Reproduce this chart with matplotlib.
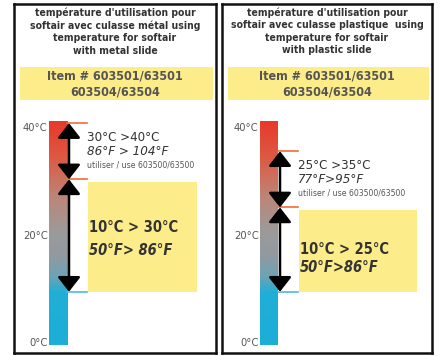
import numpy as np
import matplotlib
matplotlib.use("Agg")
import matplotlib.pyplot as plt
from matplotlib.colors import LinearSegmentedColormap

plt.rcParams['font.family'] = ['DejaVu Sans']
plt.rcParams['font.stretch'] = 'condensed'

# ---- data ----
scale_ticks = [40, 20, 0]
scale_labels = ["40°C", "20°C", "0°C"]

titles = ["température d'utilisation pour\nsoftair avec culasse métal using\ntemperature for softair\nwith metal slide",
          "température d'utilisation pour\nsoftair avec culasse plastique  using\ntemperature for softair\nwith plastic slide"]
items = ["Item # 603501/63501\n603504/63504", "Item # 603501/63501\n603504/63504"]

high_ranges = [(30, 40), (25, 35)]
low_ranges = [(10, 30), (10, 25)]
high_c = ["30°C >40°C", "25°C >35°C"]
high_f = ["86°F > 104°F", "77°F>95°F"]
low_c = ["10°C > 30°C", "10°C > 25°C"]
low_f = ["50°F> 86°F", "50°F>86°F"]
use_note = "utiliser / use 603500/63500"

# ---- style ----
yellow = "#FCEC8A"
ink = "#333333"
cmap = LinearSegmentedColormap.from_list("thermo", [
    (0.0, "#1DAFD8"), (0.23, "#1FAED6"), (0.3, "#6AA4B6"), (0.4, "#9299A0"),
    (0.5, "#9B9B9B"), (0.66, "#BC8678"), (0.84, "#DC5A44"), (1.0, "#E8392B")])

fig = plt.figure(figsize=(4.4, 3.56), dpi=100)
panels = [(14, 202, 35, 109), (222, 210, 38, 118)]   # left px, width px, bar x, box width
ylo, yhi = -0.9, 61.2

for i, (px, pw, bx, bw) in enumerate(panels):
    ax = fig.add_axes([px / 440, 3 / 356, pw / 440, 349 / 356])
    ax.set_xlim(0, pw)
    ax.set_ylim(ylo, yhi)
    ax.set_xticks([])
    ax.set_yticks([])
    for s in ax.spines.values():
        s.set_linewidth(1.8)
        s.set_color("#111111")

    # title
    ax.text(0.5, 0.99, titles[i], transform=ax.transAxes, ha="center", va="top",
            fontsize=7.5, fontweight="bold", color=ink, linespacing=1.3)
    # item box
    ax.add_patch(plt.Rectangle((0.03, 0.725), 0.955, 0.095, transform=ax.transAxes,
                               color=yellow, lw=0))
    ax.text(0.5, 0.772, items[i], transform=ax.transAxes, ha="center", va="center",
            fontsize=9, fontweight="bold", color="#555555", linespacing=1.3)

    # thermometer bar
    grad = np.linspace(0, 1, 200).reshape(-1, 1)
    ax.imshow(grad, cmap=cmap, origin="lower", aspect="auto",
              extent=(bx, bx + 18, 0.5, 40.3), zorder=2)
    for t, lab in zip(scale_ticks, scale_labels):
        va = "top" if t == 40 else ("bottom" if t == 0 else "center")
        ax.text(bx - 1.5, t, lab, ha="right", va=va, fontsize=8, color="#555555")

    # range marker lines
    hi, lo = high_ranges[i], low_ranges[i]
    for t in hi:
        ax.plot([bx + 18, bx + 38], [t, t], color="#F26A3A", lw=1.2, zorder=3)
    ax.plot([bx + 18, bx + 38], [lo[0], lo[0]], color="#55B8E0", lw=1.2, zorder=3)

    # arrows
    arrow_x = bx + 20
    for a, b in (hi, lo):
        ax.annotate("", xy=(arrow_x, b), xytext=(arrow_x, a),
                    arrowprops=dict(arrowstyle="<|-|>,head_length=0.45,head_width=0.35",
                                    mutation_scale=20, color="black", lw=1.8,
                                    shrinkA=0, shrinkB=0), zorder=4)

    # high range text
    tx = bx + 38
    ax.text(tx, hi[1] - 2.5, high_c[i], ha="left", va="center", fontsize=9.5, color=ink)
    ax.text(tx, hi[1] - 5.0, high_f[i], ha="left", va="center", fontsize=9.5,
            color=ink, style="italic")
    ax.text(tx, hi[0] + 2.6, use_note, ha="left", va="center", fontsize=6.2, color="#555555")

    # low range box
    ax.add_patch(plt.Rectangle((tx + 1, lo[0]), bw, lo[1] - lo[0] - 0.4,
                               color=yellow, lw=0, zorder=1))
    ax.text(tx + 2, lo[1] - (8.5 if i == 0 else 7.5), low_c[i], ha="left", va="center",
            fontsize=10.5, fontweight="bold", color=ink)
    ax.text(tx + 2, lo[1] - (12.6 if i == 0 else 10.7), low_f[i], ha="left", va="center",
            fontsize=10.5, fontweight="bold", style="italic", color=ink)

fig.savefig("out.png", dpi=100)
